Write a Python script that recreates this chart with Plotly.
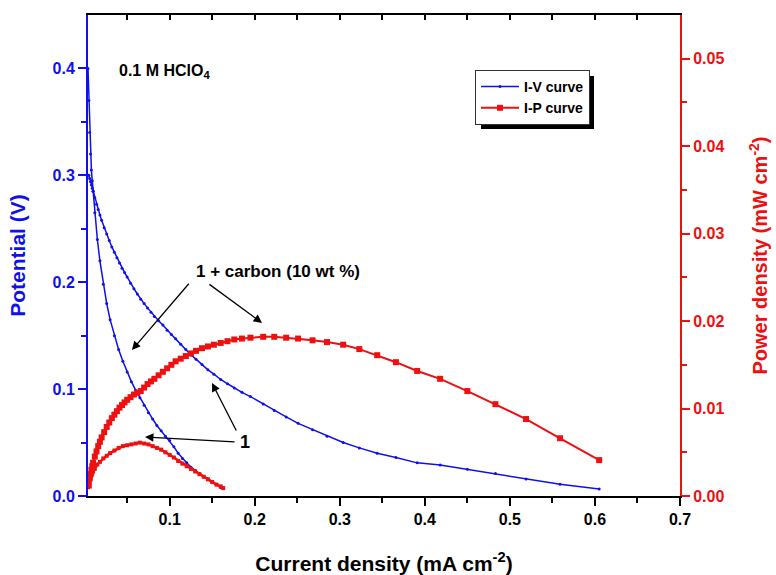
import plotly.graph_objects as go

# ---------------- data ----------------
# Sample 1 (bare)
bare_I = [0.004, 0.005, 0.006, 0.007, 0.008, 0.009, 0.010, 0.012, 0.015, 0.018,
          0.022, 0.026, 0.030, 0.035, 0.040, 0.045, 0.050, 0.055, 0.060, 0.065,
          0.070, 0.075, 0.080, 0.085, 0.090, 0.095, 0.100, 0.105, 0.110, 0.115,
          0.120, 0.125, 0.130, 0.135, 0.140, 0.145, 0.150, 0.155, 0.160, 0.163]
bare_V = [0.400, 0.370, 0.340, 0.320, 0.305, 0.295, 0.285, 0.265, 0.240, 0.220,
          0.198, 0.180, 0.165, 0.150, 0.137, 0.126, 0.116, 0.107, 0.099, 0.092,
          0.085, 0.078, 0.072, 0.066, 0.061, 0.056, 0.052, 0.046, 0.040, 0.035,
          0.031, 0.027, 0.024, 0.021, 0.018, 0.016, 0.013, 0.011, 0.008, 0.007]
bare_P = [0.0010, 0.0013, 0.0017, 0.0021, 0.0024, 0.0026, 0.0028, 0.0031, 0.0036, 0.0039,
          0.0043, 0.0046, 0.0049, 0.0052, 0.0055, 0.0057, 0.0058, 0.0059, 0.0060, 0.0061,
          0.0060, 0.0059, 0.0057, 0.0055, 0.0053, 0.0050, 0.0047, 0.0044, 0.0040, 0.0037,
          0.0034, 0.0031, 0.0028, 0.0025, 0.0022, 0.0019, 0.0016, 0.0013, 0.0011, 0.0009]

# Sample 1 + carbon (10 wt %)
carb_I = [0.005, 0.006, 0.007, 0.008, 0.009, 0.010, 0.012, 0.014, 0.016, 0.018,
          0.020, 0.023, 0.026, 0.029, 0.032, 0.035, 0.038, 0.041, 0.044, 0.047,
          0.050, 0.054, 0.058, 0.062, 0.066, 0.070, 0.074, 0.078, 0.082, 0.087,
          0.092, 0.097, 0.102, 0.107, 0.113, 0.119, 0.125, 0.131, 0.138, 0.145,
          0.152, 0.160, 0.168, 0.176, 0.185, 0.195, 0.210, 0.223, 0.237, 0.251,
          0.268, 0.285, 0.304, 0.323, 0.344, 0.366, 0.391, 0.418, 0.450, 0.483,
          0.519, 0.559, 0.605]
carb_V = [0.300, 0.297, 0.294, 0.291, 0.288, 0.285, 0.279, 0.273, 0.268, 0.263,
          0.258, 0.251, 0.245, 0.239, 0.233, 0.228, 0.223, 0.218, 0.213, 0.209,
          0.205, 0.199, 0.194, 0.189, 0.184, 0.180, 0.176, 0.172, 0.168, 0.164,
          0.160, 0.155, 0.151, 0.147, 0.142, 0.137, 0.132, 0.128, 0.123, 0.118,
          0.114, 0.109, 0.105, 0.101, 0.097, 0.093, 0.086, 0.080, 0.074, 0.068,
          0.062, 0.056, 0.050, 0.045, 0.040, 0.036, 0.031, 0.029, 0.025, 0.021,
          0.016, 0.011, 0.0066]
carb_P = [0.0012, 0.0020, 0.0025, 0.0030, 0.0034, 0.0038, 0.0045, 0.0051, 0.0057, 0.0062,
          0.0067, 0.0073, 0.0079, 0.0084, 0.0089, 0.0093, 0.0097, 0.0101, 0.0104, 0.0107,
          0.0110, 0.0113, 0.0116, 0.0118, 0.0120, 0.0124, 0.0128, 0.0131, 0.0134, 0.0138,
          0.0142, 0.0146, 0.0150, 0.0154, 0.0157, 0.0160, 0.0163, 0.0166, 0.0169, 0.0171,
          0.0173, 0.0175, 0.0177, 0.0179, 0.0180, 0.0181, 0.0182, 0.0182, 0.0181, 0.0180,
          0.0178, 0.0176, 0.0173, 0.0168, 0.0161, 0.0153, 0.0143, 0.0134, 0.0120, 0.0105,
          0.0088, 0.0066, 0.0041]

x_ticks = [0.1, 0.2, 0.3, 0.4, 0.5, 0.6, 0.7]
y_ticks = [0.0, 0.1, 0.2, 0.3, 0.4]
y2_ticks = [0.00, 0.01, 0.02, 0.03, 0.04, 0.05]

BLUE = "#1010ee"
RED = "#ee1010"
FONT = "Arial, Liberation Sans, sans-serif"

fig = go.Figure()

# power curves first (drawn underneath)
fig.add_trace(go.Scatter(x=bare_I, y=bare_P, mode="lines+markers", name="<b>I-P curve</b>",
                         line=dict(color=RED, width=2.5), marker=dict(size=4, symbol="square", color=RED),
                         yaxis="y2", legendgroup="ip", showlegend=False, legendrank=2))
fig.add_trace(go.Scatter(x=carb_I, y=carb_P, mode="lines+markers", name="<b>I-P curve</b>",
                         line=dict(color=RED, width=2), marker=dict(size=6, symbol="square", color=RED),
                         yaxis="y2", legendgroup="ip", showlegend=True, legendrank=2))
fig.add_trace(go.Scatter(x=bare_I, y=bare_V, mode="lines+markers", name="<b>I-V curve</b>",
                         line=dict(color=BLUE, width=1.5), marker=dict(size=3, color=BLUE),
                         legendgroup="iv", showlegend=False, legendrank=1))
fig.add_trace(go.Scatter(x=carb_I, y=carb_V, mode="lines+markers", name="<b>I-V curve</b>",
                         line=dict(color=BLUE, width=1.5), marker=dict(size=3, color=BLUE),
                         legendgroup="iv", showlegend=True, legendrank=1))
# invisible trace to activate top mirror axis
fig.add_trace(go.Scatter(x=[0.3], y=[0.1], xaxis="x2", mode="markers",
                         marker=dict(opacity=0), showlegend=False, hoverinfo="skip"))

fig.update_layout(
    width=776, height=575,
    margin=dict(l=88, r=96, t=15, b=79),
    paper_bgcolor="white", plot_bgcolor="white",
    font=dict(family=FONT, color="black"),
    xaxis=dict(range=[0.004, 0.7], tickvals=x_ticks, ticktext=[f"<b>{v:.1f}</b>" for v in x_ticks],
               ticks="outside", ticklen=8, tickwidth=2, tickcolor="black", automargin=False,
               showline=True, linecolor="black", linewidth=2, showgrid=False, zeroline=False,
               tickfont=dict(family=FONT, size=16, color="black"),
               minor=dict(ticks="outside", ticklen=5, tickwidth=2, tickcolor="black",
                          tickvals=[0.05, 0.15, 0.25, 0.35, 0.45, 0.55, 0.65], showgrid=False),
               title=dict(text="<b>Current density (mA cm<sup>-2</sup>)</b>",
                          font=dict(family=FONT, size=21, color="black"), standoff=29)),
    xaxis2=dict(range=[0.004, 0.7], overlaying="x", side="top", showticklabels=False,
                tickvals=[0.05, 0.1, 0.15, 0.2, 0.25, 0.3, 0.35, 0.4, 0.45, 0.5, 0.55, 0.6, 0.65, 0.7],
                ticks="inside", ticklen=5, tickwidth=2, tickcolor="black", automargin=False,
                showline=True, linecolor="black", linewidth=2, showgrid=False, zeroline=False),
    yaxis=dict(range=[0, 0.45], tickvals=y_ticks, ticktext=[f"<b>{v:.1f}</b>" for v in y_ticks],
               ticks="outside", ticklen=8, tickwidth=2, tickcolor=BLUE, automargin=False,
               showline=True, linecolor=BLUE, linewidth=2, showgrid=False, zeroline=False,
               tickfont=dict(family=FONT, size=16, color=BLUE),
               minor=dict(ticks="outside", ticklen=5, tickwidth=2, tickcolor=BLUE,
                          tickvals=[0.05, 0.15, 0.25, 0.35], showgrid=False),
               title=dict(text="<b>Potential (V)</b>", font=dict(family=FONT, size=21, color=BLUE),
                          standoff=21)),
    yaxis2=dict(range=[0, 0.055], overlaying="y", side="right", tickvals=y2_ticks,
                ticktext=[f"<b>{v:.2f}</b>" for v in y2_ticks], automargin=False,
                ticks="outside", ticklen=8, tickwidth=2, tickcolor=RED,
                showline=True, linecolor=RED, linewidth=2, showgrid=False, zeroline=False,
                tickfont=dict(family=FONT, size=16, color=RED),
                minor=dict(ticks="outside", ticklen=5, tickwidth=2, tickcolor=RED,
                           tickvals=[0.005, 0.015, 0.025, 0.035, 0.045], showgrid=False),
                title=dict(text="<b>Power density (mW cm<sup>-2</sup>)</b>",
                           font=dict(family=FONT, size=20, color=RED), standoff=30)),
    legend=dict(x=(475 - 88) / 592, y=(496 - 70) / 481, xanchor="left", yanchor="top", bgcolor="white",
                bordercolor="#333333", borderwidth=1,
                font=dict(family=FONT, size=14, color="black"),
                itemwidth=38, tracegroupgap=0),
)

# legend shadow
fig.add_shape(type="rect", xref="paper", yref="paper",
              x0=(481 - 88) / 592, x1=(594 - 88) / 592,
              y0=(496 - 129) / 481, y1=(496 - 76) / 481,
              fillcolor="black", line=dict(width=0), layer="below")

fig.add_annotation(xref="paper", yref="paper", x=(117 - 88) / 592, y=(496 - 72) / 481,
                   xanchor="left", yanchor="middle", showarrow=False,
                   text="<b>0.1 M HClO<sub>4</sub></b>", font=dict(family=FONT, size=16, color="black"))
fig.add_annotation(x=0.2274, y=0.2096, text="<b>1 + carbon (10 wt %)</b>", showarrow=False,
                   font=dict(family=FONT, size=17, color="black"))
fig.add_annotation(x=0.1886, y=0.0505, text="<b>1</b>", showarrow=False,
                   font=dict(family=FONT, size=18, color="black"))

arrows = [
    (0.0557, 0.1366, 0.124, 0.200),
    (0.2086, 0.1619, 0.145, 0.199),
    (0.1498, 0.1057, 0.1792, 0.0599),
    (0.071, 0.0552, 0.178, 0.0505),
]
for hx, hy, tx, ty in arrows:
    fig.add_annotation(x=hx, y=hy, ax=tx, ay=ty, axref="x", ayref="y", xref="x", yref="y",
                       text="", showarrow=True, arrowhead=2, arrowsize=1.3, arrowwidth=1.3,
                       arrowcolor="black")

fig.write_html("out.html")
